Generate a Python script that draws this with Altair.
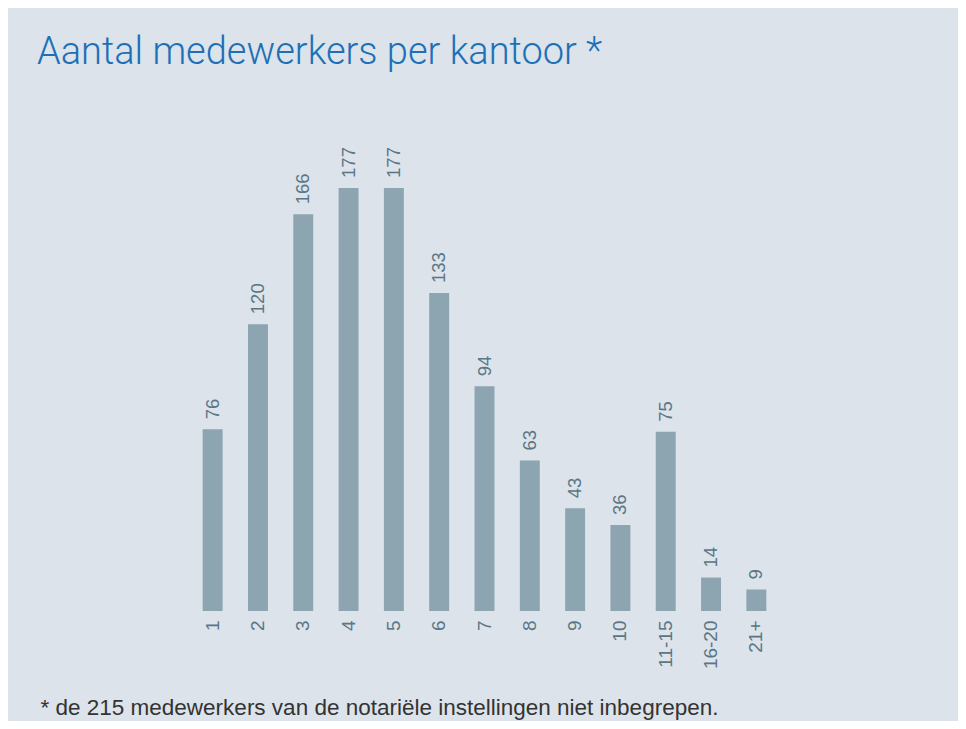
import altair as alt
import pandas as pd

categories = ["1", "2", "3", "4", "5", "6", "7", "8", "9", "10", "11-15", "16-20", "21+"]
values = [76, 120, 166, 177, 177, 133, 94, 63, 43, 36, 75, 14, 9]

title_text = "Aantal medewerkers per kantoor *"
footnote = "* de 215 medewerkers van de notariële instellingen niet inbegrepen."

df = pd.DataFrame({"cat": categories, "val": values})

BG = "#dce3ea"
BAR = "#8ca5b1"
LBL = "#5b7686"

x = alt.X(
    "cat:N",
    sort=categories,
    scale=alt.Scale(paddingInner=0.56, paddingOuter=0.28),
    axis=alt.Axis(
        title=footnote,
        labelAngle=270,
        labelAlign="right",
        labelBaseline="middle",
        labelPadding=9,
        labelFont="Liberation Sans",
        labelFontSize=19,
        labelColor=LBL,
        ticks=False,
        domain=False,
        grid=False,
        titleFont="Liberation Sans",
        titleFontSize=22.5,
        titleFontWeight="normal",
        titleColor="#333333",
        titleAnchor="start",
        titleAlign="left",
        titleBaseline="alphabetic",
        titleX=-150,
        titleY=103,
    ),
)
y = alt.Y("val:Q", scale=alt.Scale(domain=[0, 205]), axis=None)

bars = alt.Chart(df).mark_bar(color=BAR).encode(x=x, y=y)
labels = alt.Chart(df).mark_text(
    angle=270, align="left", baseline="middle", dx=10,
    font="Liberation Sans", fontSize=18.5, color=LBL,
).encode(x=alt.X("cat:N", sort=categories), y=y, text="val:Q")

chart = (
    alt.layer(bars, labels)
    .properties(
        width=589,
        height=490,
        background=BG,
        padding={"left": 182, "right": 179, "top": 113, "bottom": 110},
        autosize=alt.AutoSizeParams(type="none"),
        title=alt.TitleParams(
            text=title_text,
            anchor="start",
            frame="group",
            font="Roboto",
            fontSize=38,
            fontWeight=300,
            color="#1d70b7",
            baseline="alphabetic",
            dx=-153,
            offset=19,
        ),
    )
    .configure_view(stroke=None)
)

chart.save("out.html", embed_options={"renderer": "svg", "actions": False})
